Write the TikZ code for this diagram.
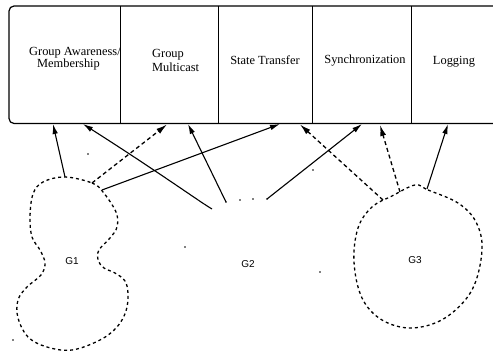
\documentclass[tikz,border=0pt]{standalone}
\usepackage{fontspec}
\setmainfont{Liberation Serif}
\newfontfamily\glabfont{Liberation Sans}
\usetikzlibrary{arrows.meta}
\begin{document}
\begin{tikzpicture}[x=1pt,y=-1pt,
  lab/.style={inner sep=0pt,font=\fontsize{12.4}{11}\selectfont},
  glab/.style={inner sep=0pt,font=\glabfont\fontsize{10}{12}\selectfont},
  solidarrow/.style={line width=1.1pt,-{Latex[length=10pt,width=5.5pt]}},
  dasharrow/.style={line width=1.3pt,dash pattern=on 4pt off 3pt,-{Latex[length=11pt,width=6pt]}},
  blob/.style={line width=1.3pt,dash pattern=on 3pt off 3pt},
  speck/.style={fill=black}]
\useasboundingbox (0,0) rectangle (493,353);

% outer box and dividers
\draw[line width=1.2pt,rounded corners=5pt] (493,6) -- (9,6) -- (9,123.5) -- (493,123.5);
\foreach \x in {120,218,312,411} \draw[line width=0.9pt] (\x,6) -- (\x,123.5);

% cell labels
\node[lab,anchor=west,align=left] (l1) at (29,58.5) {Group Awareness/\\\hspace*{8pt}Membership};
\node[lab,anchor=west,align=left,font=\fontsize{12.4}{14}\selectfont] (l2) at (152,60) {Group\\Multicast};
\node[lab] (l3) at (265,60) {State Transfer};
\node[lab] (l4) at (365,61) {Synchronization};
\node[lab] (l5) at (454,62) {Logging};

% group labels
\node[glab] (G1) at (72,261) {G1};
\node[glab] (G2) at (248,264) {G2};
\node[glab] (G3) at (415,260) {G3};

% G1 blob
\draw[blob] plot[smooth cycle,tension=0.6] coordinates {
 (65,177) (92,183) (103,192) (116,212) (117,227) (110,238) (99,250) (98,260) (104,268)
 (115,273) (125,281) (128,294) (126,311) (117,327) (100,340) (72,350) (47,347)
 (28,337) (18,318) (18,300) (27,287) (41,275) (45,263) (40,250) (32,237)
 (30,217) (33,194) (43,182)};

% G3 blob
\draw[blob] plot[smooth cycle,tension=0.6] coordinates {
 (415,185) (428,190) (458,203) (476,222) (482,250) (472,290) (445,318) (412,328)
 (382,320) (362,298) (354,262) (358,228) (372,207) (392,196)};

% G2 sparse dots
\foreach \p in {(226,202),(240,200),(253,199),(267,199),(185,247),(320,272),(88,154),(313,170),(13,340)}
  \fill[speck] \p circle (0.9pt);

% endpoints
\coordinate (g1a) at (65,177);
\coordinate (g1b) at (92,183);
\coordinate (g1c) at (102,190);
\coordinate (g2a) at (212,209);
\coordinate (g2b) at (226,202);
\coordinate (g2c) at (267,199);
\coordinate (g3a) at (383,200);
\coordinate (g3b) at (400,192);
\coordinate (g3c) at (427,189);
\coordinate (t1) at (53,124);
\coordinate (t2) at (83,124);
\coordinate (t3) at (167,124.5);
\coordinate (t4) at (188,124);
\coordinate (t5) at (280,124);
\coordinate (t6) at (300,124.5);
\coordinate (t7) at (362,124);
\coordinate (t8) at (380,125);
\coordinate (t9) at (448,124);

% connectors
\draw[solidarrow] (g1a) -- (t1);
\draw[solidarrow] (g2a) .. controls (200,202) and (160,173) .. (t2);
\draw[dasharrow] (g1b) -- (t3);
\draw[solidarrow] (g2b) -- (t4);
\draw[solidarrow] (g1c) -- (t5);
\draw[dasharrow] (g3a) -- (t6);
\draw[solidarrow] (g2c) -- (t7);
\draw[dasharrow] (g3b) -- (t8);
\draw[solidarrow] (g3c) -- (t9);
\end{tikzpicture}
\end{document}
